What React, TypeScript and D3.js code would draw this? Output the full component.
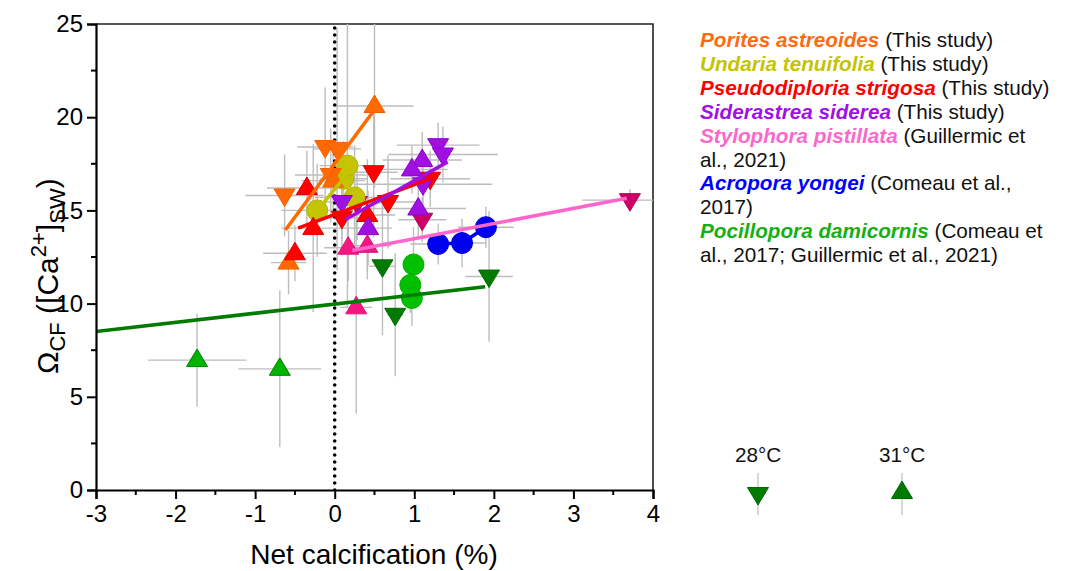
import React, { useRef, useEffect } from "react";
import * as d3 from "d3";

const W = 1065;
const H = 571;
const plot = { left: 96, right: 653, top: 24, bottom: 490 };

// each point: [net calcification, omega, x error, y error]
type Pt = [number, number, number, number];

const poritesDown: Pt[] = [
  [-0.63, 15.8, 0.49, 2.2],
  [-0.12, 18.4, 0.35, 3.2],
  [0.03, 18.3, 0.3, 6.5],
  [-0.05, 16.9, 0.45, 2.5],
];
const poritesUp: Pt[] = [
  [0.5, 20.6, 0.49, 4.4],
  [-0.02, 16.6, 0.4, 2.0],
  [-0.58, 12.2, 0.22, 1.7],
];
const undariaPts: Pt[] = [
  [-0.22, 15.0, 0.45, 2.5],
  [0.11, 16.7, 0.3, 2.0],
  [0.16, 17.4, 0.35, 7.6],
  [0.25, 15.7, 0.5, 2.8],
];
const pseudoDown: Pt[] = [
  [0.49, 17.05, 0.3, 3.5],
  [0.67, 15.45, 0.4, 2.5],
  [0.09, 14.6, 0.35, 2.0],
  [1.2, 16.7, 0.5, 1.5],
];
const pseudoUp: Pt[] = [
  [-0.35, 16.2, 0.5, 2.0],
  [-0.27, 14.05, 0.4, 4.5],
  [0.41, 14.75, 0.35, 3.0],
  [-0.5, 12.7, 0.4, 1.5],
];
const sideraDown: Pt[] = [
  [1.3, 18.5, 0.52, 1.2],
  [1.36, 18.0, 0.69, 1.5],
  [1.11, 16.4, 0.87, 1.2],
  [0.09, 15.45, 0.4, 2.0],
];
const sideraUp: Pt[] = [
  [1.1, 17.7, 0.5, 1.5],
  [0.97, 17.2, 0.45, 1.3],
  [1.05, 15.1, 0.6, 1.5],
  [0.42, 14.05, 0.3, 2.0],
];
const styloDown: Pt[] = [
  [3.71, 15.55, 0.6, 0.6],
  [1.1, 14.5, 0.3, 1.2],
  [0.28, 15.4, 0.3, 2.0],
];
const styloUp: Pt[] = [
  [0.17, 13.0, 0.3, 1.8],
  [0.41, 13.1, 0.3, 1.8],
  [0.27, 9.8, 0.2, 5.7],
];
const acroporaPts: Pt[] = [
  [1.3, 13.2, 0.35, 1.1],
  [1.6, 13.25, 0.3, 1.3],
  [1.9, 14.1, 0.35, 1.1],
];
const pociCircles: Pt[] = [
  [0.99, 12.1, 0.1, 2.0],
  [0.95, 11.0, 0.1, 1.5],
  [0.97, 10.3, 0.1, 1.5],
];
const pociUp: Pt[] = [
  [-1.73, 6.97, 0.62, 2.5],
  [-0.69, 6.5, 0.52, 4.2],
];
const pociDown: Pt[] = [
  [0.6, 12.0, 0.17, 3.7],
  [0.76, 9.4, 0.1, 3.3],
  [1.94, 11.45, 0.3, 3.5],
];

// trend lines
const poritesLine: [number, number][] = [[-0.62, 13.95], [0.5, 20.4]];
const undariaLine: [number, number][] = [[-0.22, 15.0], [0.11, 16.7], [0.16, 17.3]];
const pseudoLine: [number, number][] = [[-0.46, 14.05], [1.26, 16.8]];
const sideraLine: [number, number][] = [[0.13, 14.5], [1.42, 17.6]];
const styloLine: [number, number][] = [[0.22, 12.85], [3.67, 15.65]];
const acroporaLine: [number, number][] = [[1.3, 13.2], [1.6, 13.25], [1.9, 14.1]];
const pociLine: [number, number][] = [[-3, 8.5], [1.89, 10.9]];

const xTicks = [-3, -2, -1, 0, 1, 2, 3, 4];
const yTicks = [0, 5, 10, 15, 20, 25];

const legendSpecies = [
  "Porites astreoides",
  "Undaria tenuifolia",
  "Pseudodiploria strigosa",
  "Siderastrea siderea",
  "Stylophora pistillata",
  "",
  "Acropora yongei",
  "",
  "Pocillopora damicornis",
  "",
];
const legendRefs = [
  "(This study)",
  "(This study)",
  "(This study)",
  "(This study)",
  "(Guillermic et",
  "al., 2021)",
  "(Comeau et al.,",
  "2017)",
  "(Comeau et",
  "al., 2017; Guillermic et al., 2021)",
];
const legendColors = ["#FF6A10", "#C4C400", "#FF0000", "#A010E8", "#FF66CC", "", "#0000FF", "", "#16B016", ""];
const tempLabels = ["28°C", "31°C"];

const FONT = "'Liberation Sans', Arial, sans-serif";

const upPath = "M0,-11L10.5,6.5L-10.5,6.5Z";
const downPath = "M0,11L10.5,-6.5L-10.5,-6.5Z";

type Series = { pts: Pt[]; shape: "up" | "down" | "circle"; fill: string; edge: string };

const series: Series[] = [
  { pts: pociCircles, shape: "circle", fill: "#00C000", edge: "#00B000" },
  { pts: pociUp, shape: "up", fill: "#00B400", edge: "#008000" },
  { pts: pociDown, shape: "down", fill: "#007A00", edge: "#006A00" },
  { pts: acroporaPts, shape: "circle", fill: "#0000F0", edge: "#0000D0" },
  { pts: styloUp, shape: "up", fill: "#F5167F", edge: "#E0107A" },
  { pts: styloDown, shape: "down", fill: "#CC0066", edge: "#B8005C" },
  { pts: undariaPts, shape: "circle", fill: "#C4C400", edge: "#B4B400" },
  { pts: poritesDown, shape: "down", fill: "#FF6A00", edge: "#F06000" },
  { pts: poritesUp, shape: "up", fill: "#FF6A00", edge: "#F06000" },
  { pts: pseudoDown, shape: "down", fill: "#FF0000", edge: "#E00000" },
  { pts: pseudoUp, shape: "up", fill: "#FF0000", edge: "#E00000" },
  { pts: sideraDown, shape: "down", fill: "#A010E0", edge: "#9000D0" },
  { pts: sideraUp, shape: "up", fill: "#A010E0", edge: "#9000D0" },
];

const lines: { pts: [number, number][]; color: string }[] = [
  { pts: pociLine, color: "#007A00" },
  { pts: acroporaLine, color: "#0000F0" },
  { pts: styloLine, color: "#FF66CC" },
  { pts: undariaLine, color: "#C4C400" },
  { pts: poritesLine, color: "#FF6A00" },
  { pts: pseudoLine, color: "#FF0000" },
  { pts: sideraLine, color: "#A010E0" },
];

export default function App() {
  const xAxisRef = useRef<SVGGElement>(null);
  const yAxisRef = useRef<SVGGElement>(null);

  const x = d3.scaleLinear().domain([-3, 4]).range([plot.left, plot.right]);
  const y = d3.scaleLinear().domain([0, 25]).range([plot.bottom, plot.top]);
  const line = d3
    .line<[number, number]>()
    .x((d) => x(d[0]))
    .y((d) => y(d[1]));

  useEffect(() => {
    const xa = d3.select(xAxisRef.current);
    xa.call(d3.axisBottom(x).tickValues(xTicks).tickSize(9).tickPadding(6).tickFormat(d3.format("d")));
    const ya = d3.select(yAxisRef.current);
    ya.call(d3.axisLeft(y).tickValues(yTicks).tickSize(9).tickPadding(4).tickFormat(d3.format("d")));
    [xa, ya].forEach((a) => {
      a.select(".domain").attr("stroke-width", 2.2);
      a.selectAll(".tick line").attr("stroke-width", 2);
      a.selectAll(".tick text")
        .attr("font-size", 24)
        .attr("font-family", FONT)
        .attr("fill", "#000")
        .text((d: any) => String(d));
    });
  });

  const xMinor = d3.range(-2.5, 4, 1);
  const yMinor = d3.range(2.5, 25, 5);

  return (
    <div style={{ position: "absolute", left: 0, top: 0 }}>
      <svg width={W} height={H} style={{ display: "block", background: "#fff" }}>
        <defs>
          <clipPath id="plotClip">
            <rect x={plot.left} y={plot.top} width={plot.right - plot.left} height={plot.bottom - plot.top} />
          </clipPath>
        </defs>

        {/* frame */}
        <path
          d={`M${plot.left},${plot.top}H${plot.right}V${plot.bottom}`}
          fill="none"
          stroke="#222"
          strokeWidth={1.6}
        />

        <g clipPath="url(#plotClip)">
          {/* error bars */}
          {series.map((s, i) =>
            s.pts.map((p, j) => (
              <g key={`e${i}-${j}`} stroke="#BDBDBD" strokeWidth={1.4}>
                <line x1={x(p[0] - p[2])} x2={x(p[0] + p[2])} y1={y(p[1])} y2={y(p[1])} />
                <line x1={x(p[0])} x2={x(p[0])} y1={y(p[1] - p[3])} y2={y(p[1] + p[3])} />
              </g>
            ))
          )}

          {/* zero line */}
          <line
            x1={x(0)}
            x2={x(0)}
            y1={y(0)}
            y2={y(25)}
            stroke="#000"
            strokeWidth={3.6}
            strokeDasharray="0,7"
            strokeLinecap="round"
          />

          {/* markers */}
          {series.map((s, i) =>
            s.pts.map((p, j) =>
              s.shape === "circle" ? (
                <circle key={`m${i}-${j}`} cx={x(p[0])} cy={y(p[1])} r={10.5} fill={s.fill} stroke={s.edge} strokeWidth={1} />
              ) : (
                <path
                  key={`m${i}-${j}`}
                  d={s.shape === "up" ? upPath : downPath}
                  transform={`translate(${x(p[0])},${y(p[1])})`}
                  fill={s.fill}
                  stroke={s.edge}
                  strokeWidth={1}
                />
              )
            )
          )}

          {/* trend lines */}
          {lines.map((l, i) => (
            <path key={`l${i}`} d={line(l.pts) || ""} fill="none" stroke={l.color} strokeWidth={3.6} />
          ))}
        </g>

        {/* axes */}
        <g ref={xAxisRef} transform={`translate(0,${plot.bottom})`} />
        <g ref={yAxisRef} transform={`translate(${plot.left},0)`} />
        {xMinor.map((v) => (
          <line key={`xm${v}`} x1={x(v)} x2={x(v)} y1={plot.bottom} y2={plot.bottom + 5} stroke="#000" strokeWidth={2} />
        ))}
        {yMinor.map((v) => (
          <line key={`ym${v}`} x1={plot.left - 5} x2={plot.left} y1={y(v)} y2={y(v)} stroke="#000" strokeWidth={2} />
        ))}

        {/* axis titles */}
        <text x={374} y={564} textAnchor="middle" fontSize={28} fontFamily={FONT} fill="#000">
          Net calcification (%)
        </text>
        <text transform="translate(58,374) rotate(-90)" fontSize={30} fontFamily={FONT} fill="#000">
          <tspan>Ω</tspan>
          <tspan dy={7} fontSize={22}>CF</tspan>
          <tspan dy={-7}>{"\u00A0([Ca"}</tspan>
          <tspan dy={-12} fontSize={22}>2+</tspan>
          <tspan dy={12}>]</tspan>
          <tspan dy={7} fontSize={22}>SW</tspan>
          <tspan dy={-7}>)</tspan>
        </text>

        {/* species legend */}
        {legendRefs.map((r, i) => (
          <text key={`lg${i}`} x={700} y={47 + i * 23.9} fontSize={20.7} fontFamily={FONT} fill="#111">
            {legendSpecies[i] && (
              <tspan fontWeight="bold" fontStyle="italic" fill={legendColors[i]}>
                {legendSpecies[i] + "\u00A0"}
              </tspan>
            )}
            <tspan>{r}</tspan>
          </text>
        ))}

        {/* temperature legend */}
        {tempLabels.map((t, i) => {
          const cx = 758 + i * 144;
          return (
            <g key={`t${i}`}>
              <text x={cx} y={462} textAnchor="middle" fontSize={20.7} fontFamily={FONT} fill="#111">
                {t}
              </text>
              <line x1={cx} x2={cx} y1={473} y2={515} stroke="#C8C8C8" strokeWidth={1.4} />
              <path
                d={i === 0 ? downPath : upPath}
                transform={`translate(${cx},${i === 0 ? 494 : 492})`}
                fill="#007A00"
                stroke="#006A00"
                strokeWidth={1}
              />
            </g>
          );
        })}
      </svg>
    </div>
  );
}
